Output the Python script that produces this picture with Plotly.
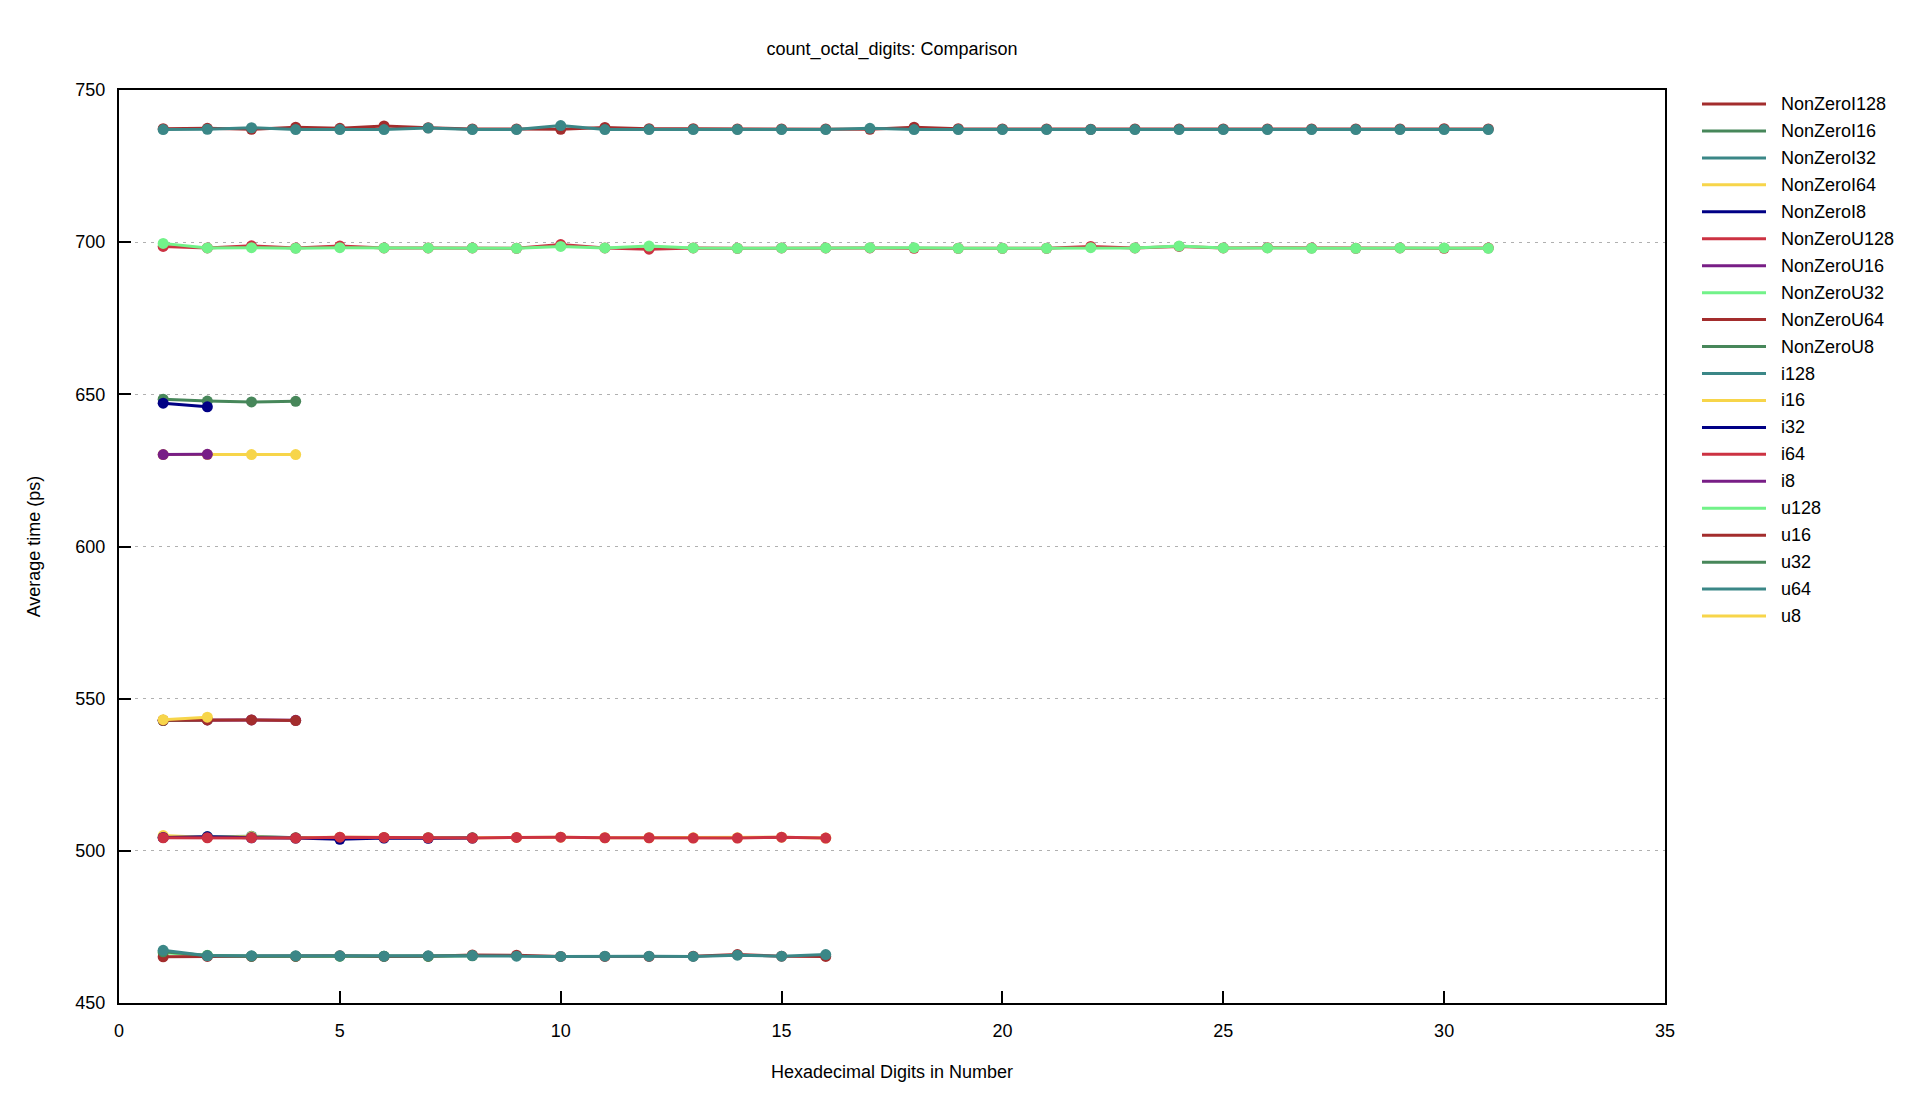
import plotly.graph_objects as go

# ---------------- data ----------------
series_names = ["NonZeroI128", "NonZeroI16", "NonZeroI32", "NonZeroI64", "NonZeroI8",
                "NonZeroU128", "NonZeroU16", "NonZeroU32", "NonZeroU64", "NonZeroU8",
                "i128", "i16", "i32", "i64", "i8", "u128", "u16", "u32", "u64", "u8"]

NonZeroI128 = [737.3, 737.4, 737.1, 737.8, 737.4, 738.2, 737.6, 737.2, 737.2, 737.1, 737.7,
               737.3, 737.3, 737.2, 737.2, 737.2, 737.1, 737.8, 737.3, 737.2, 737.2, 737.1,
               737.2, 737.2, 737.2, 737.2, 737.2, 737.2, 737.2, 737.3, 737.2]
NonZeroI16 = [648.4, 647.8, 647.5, 647.7]
NonZeroI32 = [504.4, 504.7, 504.8, 504.3, 504.3, 504.3, 504.3, 504.3]
NonZeroI64 = [505.0, 504.4, 504.6, 504.3, 504.5, 504.4, 504.3, 504.3, 504.4, 504.5, 504.3,
              504.3, 504.3, 504.3, 504.5, 504.2]
NonZeroI8 = [647.1, 645.9]
NonZeroU128 = [698.6, 698.1, 698.8, 698.1, 698.7, 698.1, 698.1, 698.1, 698.0, 699.2, 698.1,
               697.7, 698.1, 698.0, 698.1, 698.1, 698.1, 698.0, 698.0, 698.0, 698.0, 698.6,
               698.1, 698.6, 698.1, 698.2, 698.1, 698.0, 698.1, 698.0, 698.1]
NonZeroU16 = [542.9, 543.0, 543.0, 542.9]
NonZeroU32 = [466.5, 465.7, 465.4, 465.4, 465.4, 465.4, 465.3, 465.6]
NonZeroU64 = [465.2, 465.3, 465.3, 465.3, 465.5, 465.3, 465.4, 465.8, 465.7, 465.3, 465.3,
              465.3, 465.4, 465.9, 465.4, 465.3]
NonZeroU8 = [542.8, 543.1]
i128 = [737.0, 737.1, 737.6, 737.0, 737.0, 737.0, 737.5, 737.0, 737.0, 738.3, 737.0,
        737.0, 737.0, 737.0, 737.0, 737.0, 737.4, 737.0, 737.0, 737.0, 737.0, 737.0,
        737.0, 737.0, 737.0, 737.0, 737.0, 737.0, 737.0, 737.0, 737.0]
i16 = [630.2, 630.2, 630.2, 630.2]
i32 = [504.4, 504.6, 504.3, 504.2, 503.8, 504.2, 504.1, 504.2]
i64 = [504.3, 504.3, 504.3, 504.2, 504.5, 504.4, 504.3, 504.2, 504.4, 504.5, 504.3,
       504.3, 504.2, 504.2, 504.5, 504.2]
i8 = [630.2, 630.3]
u128 = [699.6, 698.1, 698.2, 698.0, 698.2, 698.1, 698.1, 698.1, 698.0, 698.6, 698.1,
        698.7, 698.1, 698.0, 698.1, 698.1, 698.2, 698.2, 698.0, 698.0, 698.0, 698.2,
        698.1, 698.7, 698.1, 698.1, 698.0, 698.0, 698.1, 698.1, 698.0]
u16 = [542.9, 543.0, 543.0, 542.8]
u32 = [466.8, 465.6, 465.4, 465.4, 465.4, 465.4, 465.4, 465.5]
u64 = [467.3, 465.5, 465.5, 465.5, 465.5, 465.4, 465.5, 465.6, 465.4, 465.3, 465.4,
       465.4, 465.3, 465.7, 465.4, 465.9]
u8 = [543.1, 543.9]

series_values = [NonZeroI128, NonZeroI16, NonZeroI32, NonZeroI64, NonZeroI8,
                 NonZeroU128, NonZeroU16, NonZeroU32, NonZeroU64, NonZeroU8,
                 i128, i16, i32, i64, i8, u128, u16, u32, u64, u8]

x_ticks = [0, 5, 10, 15, 20, 25, 30, 35]
y_ticks = [450, 500, 550, 600, 650, 700, 750]

# ---------------- style ----------------
palette = ["#a32d2d", "#47875a", "#3b8787", "#f7d54a", "#000085",
           "#cc3242", "#781e86", "#72f289"]
FONT = "Liberation Sans, Arial, Helvetica, sans-serif"
FS = 18

W, H = 1926, 1114
OFF = 8  # page body margin
L, R, T, B = 119, 1665, 90, 1003  # plot area in page px

fig = go.Figure()
for i, (name, vals) in enumerate(zip(series_names, series_values)):
    col = palette[i % len(palette)]
    xs = list(range(1, len(vals) + 1))
    fig.add_trace(go.Scatter(
        x=xs, y=vals, name=name, mode="lines+markers",
        line=dict(color=col, width=3),
        marker=dict(color=col, size=11),
        showlegend=False,
    ))

# manual legend (gnuplot style: line sample then label)
def px2paper_x(px):
    return (px - L) / (R - L)

def px2paper_y(py):
    return (B - py) / (B - T)

for i, name in enumerate(series_names):
    col = palette[i % len(palette)]
    yc = 104 + i * 26.95
    fig.add_shape(type="line", xref="paper", yref="paper",
                  x0=px2paper_x(1702), x1=px2paper_x(1766),
                  y0=px2paper_y(yc), y1=px2paper_y(yc),
                  line=dict(color=col, width=3))
    fig.add_annotation(xref="paper", yref="paper", x=px2paper_x(1779), y=px2paper_y(yc),
                       text=name, showarrow=False, xanchor="left", yanchor="middle",
                       font=dict(family=FONT, size=FS, color="black"))

fig.update_layout(
    width=W, height=H,
    margin=dict(l=L - OFF, r=W + OFF - R, t=T - OFF, b=H + OFF - B, pad=0),
    paper_bgcolor="white", plot_bgcolor="white",
    font=dict(family=FONT, size=FS, color="black"),
    title=dict(text="count_octal_digits: Comparison",
               x=((L + R) / 2 - OFF) / W, xanchor="center",
               y=1 - (49 - OFF) / H, yanchor="middle", font=dict(family=FONT, size=FS)),
)
fig.update_xaxes(
    range=[0, 35], tickvals=x_ticks, ticktext=[str(v) for v in x_ticks],
    showgrid=False, zeroline=False,
    showline=True, linecolor="black", linewidth=2, mirror=True,
    ticks="inside", ticklen=12, tickwidth=1.5, tickcolor="black",
    ticklabelstandoff=10,
    title=dict(text="Hexadecimal Digits in Number", standoff=26,
               font=dict(family=FONT, size=FS)),
)
fig.update_yaxes(
    range=[450, 750], tickvals=y_ticks, ticktext=[str(v) for v in y_ticks],
    showgrid=True, gridcolor="#b0b0b0", gridwidth=1, griddash="3px,5px",
    zeroline=False,
    showline=True, linecolor="black", linewidth=2, mirror=True,
    ticks="inside", ticklen=12, tickwidth=1.5, tickcolor="black",
    ticklabelstandoff=8,
    title=dict(text="Average time (ps)", standoff=30,
               font=dict(family=FONT, size=FS)),
)

fig.write_html("out.html")
